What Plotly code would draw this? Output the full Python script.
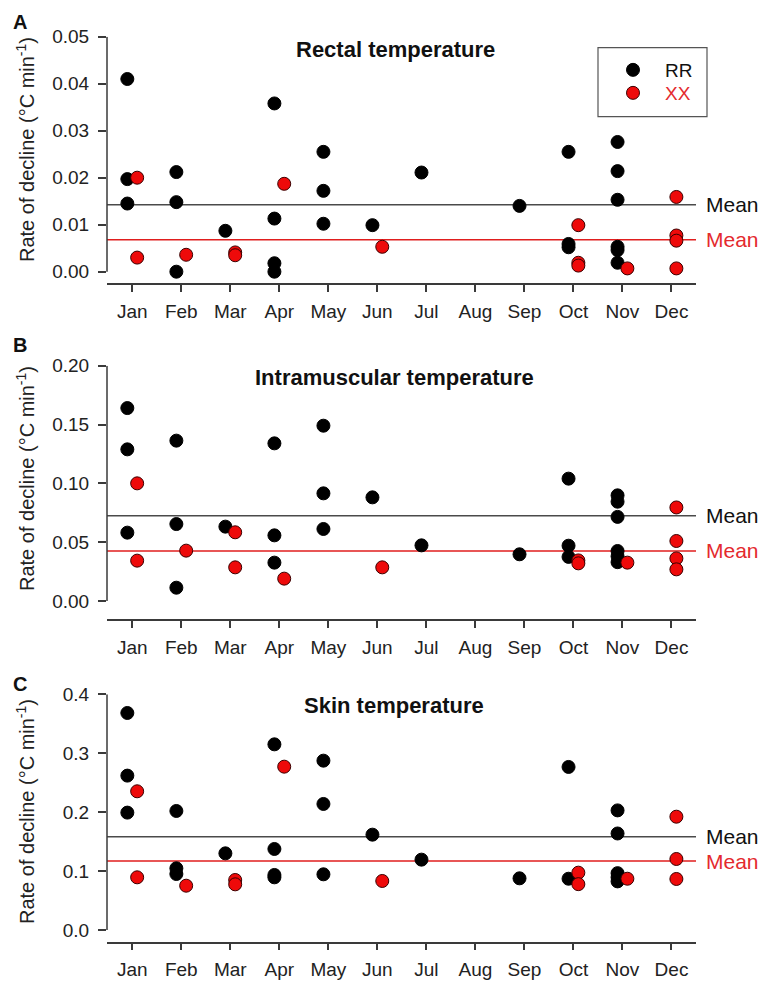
import plotly.graph_objects as go

# ---------------- data ----------------
months = ["Jan", "Feb", "Mar", "Apr", "May", "Jun", "Jul", "Aug", "Sep", "Oct", "Nov", "Dec"]

# Panel A: Rectal temperature
A_rr_month = ["Jan", "Jan", "Jan", "Feb", "Feb", "Feb", "Mar", "Apr", "Apr", "Apr", "Apr",
              "May", "May", "May", "Jun", "Jul", "Sep", "Oct", "Oct", "Oct",
              "Nov", "Nov", "Nov", "Nov", "Nov", "Nov"]
A_rr_val = [0.0410, 0.0197, 0.0145, 0.0212, 0.0148, 0.0000, 0.0087, 0.0358, 0.0113, 0.0018, 0.0000,
            0.0255, 0.0172, 0.0102, 0.0099, 0.0211, 0.0140, 0.0255, 0.0059, 0.0052,
            0.0276, 0.0214, 0.0153, 0.0053, 0.0046, 0.0019]
A_xx_month = ["Jan", "Jan", "Feb", "Mar", "Mar", "Apr", "Jun", "Oct", "Oct", "Oct", "Nov",
              "Dec", "Dec", "Dec", "Dec"]
A_xx_val = [0.0200, 0.0030, 0.0036, 0.0041, 0.0035, 0.0187, 0.0053, 0.0099, 0.0019, 0.0013, 0.0007,
            0.0159, 0.0077, 0.0066, 0.0007]
A_mean_rr = 0.01425
A_mean_xx = 0.0068

# Panel B: Intramuscular temperature
B_rr_month = ["Jan", "Jan", "Jan", "Feb", "Feb", "Feb", "Mar", "Apr", "Apr", "Apr",
              "May", "May", "May", "Jun", "Jul", "Sep", "Oct", "Oct", "Oct",
              "Nov", "Nov", "Nov", "Nov", "Nov", "Nov"]
B_rr_val = [0.1640, 0.1289, 0.0581, 0.1363, 0.0654, 0.0113, 0.0632, 0.1340, 0.0558, 0.0326,
            0.1490, 0.0915, 0.0612, 0.0881, 0.0473, 0.0397, 0.1040, 0.0470, 0.0375,
            0.0898, 0.0844, 0.0715, 0.0425, 0.0380, 0.0330]
B_xx_month = ["Jan", "Jan", "Feb", "Mar", "Mar", "Apr", "Jun", "Oct", "Oct", "Nov",
              "Dec", "Dec", "Dec", "Dec"]
B_xx_val = [0.1000, 0.0343, 0.0428, 0.0584, 0.0286, 0.0190, 0.0286, 0.0345, 0.0320, 0.0326,
            0.0795, 0.0510, 0.0362, 0.0269]
B_mean_rr = 0.0725
B_mean_xx = 0.0425

# Panel C: Skin temperature
C_rr_month = ["Jan", "Jan", "Jan", "Feb", "Feb", "Feb", "Mar", "Apr", "Apr", "Apr", "Apr",
              "May", "May", "May", "Jun", "Jul", "Sep", "Oct", "Oct",
              "Nov", "Nov", "Nov", "Nov", "Nov"]
C_rr_val = [0.3683, 0.2620, 0.1992, 0.2020, 0.1047, 0.0950, 0.1301, 0.3151, 0.1375, 0.0934, 0.0894,
            0.2874, 0.2139, 0.0945, 0.1618, 0.1194, 0.0877, 0.2767, 0.0870,
            0.2030, 0.1638, 0.0965, 0.0895, 0.0825]
C_xx_month = ["Jan", "Jan", "Feb", "Mar", "Mar", "Apr", "Jun", "Oct", "Oct", "Nov",
              "Dec", "Dec", "Dec"]
C_xx_val = [0.2354, 0.0894, 0.0752, 0.0849, 0.0775, 0.2772, 0.0832, 0.0973, 0.0778, 0.0870,
            0.1923, 0.1205, 0.0866]
C_mean_rr = 0.1584
C_mean_xx = 0.1171

panel_titles = ["Rectal temperature", "Intramuscular temperature", "Skin temperature"]
panel_letters = ["A", "B", "C"]
y_ticks = [[0.00, 0.01, 0.02, 0.03, 0.04, 0.05],
           [0.00, 0.05, 0.10, 0.15, 0.20],
           [0.0, 0.1, 0.2, 0.3, 0.4]]
y_tickformat = [".2f", ".2f", ".1f"]
series_names = ["RR", "XX"]

# ---------------- layout helpers ----------------
W, H = 764, 981
L, R = 107, 68
PW = W - L - R
FONT = "Liberation Sans, Arial, sans-serif"
AX = "#3a3a3a"
RED = "#ee0a0a"
RED_TXT = "#e42a2e"


def px_x(p):
    return (p - L) / PW


def px_y(p):
    return 1 - p / H


# pixel positions of each panel (top of y-axis, x-axis line)
panel_px = [(36.7, 283.3), (365.7, 619.3), (694.3, 941.7)]
y_ranges = [[-0.00247, 0.05], [-0.01556, 0.20], [-0.01986, 0.40]]
title_px = [(395, 49), (394, 377), (394, 705)]
letter_py = [22, 345, 684]
ytitle_py = [150, 479, 812]

panels = [
    (A_rr_month, A_rr_val, A_xx_month, A_xx_val, A_mean_rr, A_mean_xx),
    (B_rr_month, B_rr_val, B_xx_month, B_xx_val, B_mean_rr, B_mean_xx),
    (C_rr_month, C_rr_val, C_xx_month, C_xx_val, C_mean_rr, C_mean_xx),
]

fig = go.Figure()
shapes = []
annotations = []
layout_axes = {}

for i, (rm, rv, xm, xv, mr, mx) in enumerate(panels):
    sfx = "" if i == 0 else str(i + 1)
    xref = "x" + sfx
    yref = "y" + sfx
    rr_x = [months.index(m) + 1 - 0.1 for m in rm]
    xx_x = [months.index(m) + 1 + 0.1 for m in xm]
    fig.add_trace(go.Scatter(
        x=rr_x, y=rv, mode="markers", name=series_names[0],
        marker=dict(size=13, color="#000000", line=dict(color="#000000", width=1)),
        xaxis=xref, yaxis=yref, showlegend=(i == 0), legend="legend"))
    fig.add_trace(go.Scatter(
        x=xx_x, y=xv, mode="markers",
        name="<span style='color:%s'>%s</span>" % (RED_TXT, series_names[1]),
        marker=dict(size=13, color=RED, line=dict(color="#3a0000", width=1)),
        xaxis=xref, yaxis=yref, showlegend=(i == 0), legend="legend2"))

    top, bot = panel_px[i]
    layout_axes["xaxis" + sfx] = dict(
        domain=[0, 1], anchor=yref, range=[0.485, 12.5],
        tickvals=list(range(1, 13)), ticktext=months,
        showline=True, linecolor=AX, linewidth=1.5,
        ticks="outside", ticklen=7, tickwidth=1.5, tickcolor=AX,
        ticklabelstandoff=3,
        showgrid=False, zeroline=False,
        tickfont=dict(family=FONT, size=19, color="#222222"))
    layout_axes["yaxis" + sfx] = dict(
        domain=[px_y(bot), px_y(top)], anchor=xref, range=y_ranges[i],
        tickvals=y_ticks[i], tickformat=y_tickformat[i],
        showline=False, ticks="outside", ticklen=8, tickwidth=1.5, tickcolor=AX,
        ticklabelstandoff=5,
        showgrid=False, zeroline=False,
        tickfont=dict(family=FONT, size=19, color="#222222"))

    # detached y-axis line from 0 to max
    shapes.append(dict(type="line", xref=xref + " domain", yref=yref,
                       x0=0, x1=0, y0=0, y1=y_ticks[i][-1],
                       line=dict(color=AX, width=1.5), layer="above"))
    # mean lines
    shapes.append(dict(type="line", xref=xref + " domain", yref=yref,
                       x0=0, x1=1, y0=mr, y1=mr,
                       line=dict(color="#4a4a4a", width=1.5), layer="below"))
    shapes.append(dict(type="line", xref=xref + " domain", yref=yref,
                       x0=0, x1=1, y0=mx, y1=mx,
                       line=dict(color="#e01e1e", width=1.4), layer="below"))
    annotations.append(dict(text="Mean", xref="paper", yref=yref, x=px_x(704), y=mr,
                            xanchor="left", yanchor="middle", showarrow=False,
                            font=dict(family=FONT, size=21, color="#111111")))
    annotations.append(dict(text="Mean", xref="paper", yref=yref, x=px_x(704), y=mx,
                            xanchor="left", yanchor="middle", showarrow=False,
                            font=dict(family=FONT, size=21, color=RED_TXT)))
    # title
    tx, ty = title_px[i]
    annotations.append(dict(text="<b>%s</b>" % panel_titles[i], xref="paper", yref="paper",
                            x=px_x(tx), y=px_y(ty), xanchor="center", yanchor="middle",
                            showarrow=False, font=dict(family=FONT, size=22, color="#111111")))
    # panel letter
    annotations.append(dict(text="<b>%s</b>" % panel_letters[i], xref="paper", yref="paper",
                            x=px_x(11), y=px_y(letter_py[i]), xanchor="left", yanchor="middle",
                            showarrow=False, font=dict(family=FONT, size=20, color="#111111")))
    # y-axis title
    annotations.append(dict(text="Rate of decline (°C min<sup>-1</sup>)", xref="paper", yref="paper",
                            x=px_x(25), y=px_y(ytitle_py[i]), xanchor="center", yanchor="middle",
                            textangle=-90, showarrow=False,
                            font=dict(family=FONT, size=20, color="#222222")))

# legend box
shapes.append(dict(type="rect", xref="paper", yref="paper",
                   x0=px_x(598), x1=px_x(707), y0=px_y(116.7), y1=px_y(47.7),
                   line=dict(color="#555555", width=1.2), fillcolor="rgba(0,0,0,0)", layer="above"))

legend_common = dict(xanchor="left", yanchor="top", bgcolor="rgba(0,0,0,0)", borderwidth=0,
                     itemwidth=54, tracegroupgap=0,
                     font=dict(family=FONT, size=19, color="#111111"))

fig.update_layout(
    width=W, height=H,
    margin=dict(l=L, r=R, t=0, b=0, autoexpand=False),
    paper_bgcolor="white", plot_bgcolor="white",
    font=dict(family=FONT, size=19, color="#111111"),
    showlegend=True,
    legend=dict(x=px_x(601), y=px_y(51), **legend_common),
    legend2=dict(x=px_x(601), y=px_y(74), **legend_common),
    shapes=shapes,
    annotations=annotations,
    **layout_axes,
)

fig.write_html("out.html", config={"displayModeBar": False},
               post_script="document.body.style.margin='0';document.body.style.overflow='hidden';")
